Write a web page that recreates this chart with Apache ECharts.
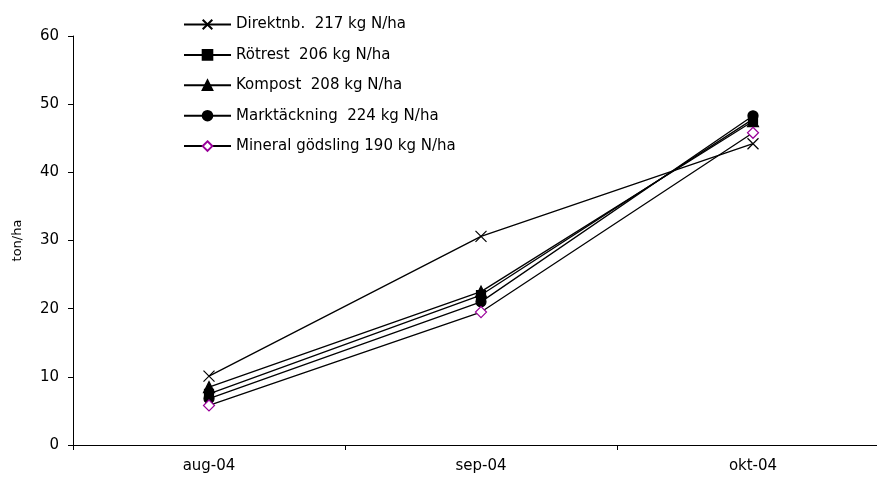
<!DOCTYPE html>
<html>
<head>
<meta charset="utf-8">
<script src="https://cdn.jsdelivr.net/npm/echarts@6/dist/echarts.min.js"></script>
<style>html,body{margin:0;padding:0;background:#fff;overflow:hidden;width:877px;height:477px;}#c{width:889px;height:477px;}</style>
</head>
<body>
<div id="c"></div>
<script>
var categories = ['aug-04', 'sep-04', 'okt-04'];
var seriesNames = ['Direktnb.  217 kg N/ha', 'Rötrest  206 kg N/ha', 'Kompost  208 kg N/ha', 'Marktäckning  224 kg N/ha', 'Mineral gödsling 190 kg N/ha'];
var direktnb = [10.1, 30.6, 44.2];
var rotrest = [7.5, 22.0, 47.8];
var kompost = [8.5, 22.5, 47.5];
var marktackning = [6.8, 21.0, 48.3];
var mineral = [5.8, 19.5, 45.8];
var yTicks = [0, 10, 20, 30, 40, 50, 60];

var FONT = 'DejaVu Sans';
function mk(name, data, symbol, size, color, fill) {
  return {
    name: name, type: 'line', data: data,
    symbol: symbol, symbolSize: size,
    lineStyle: { color: '#000', width: 1.3 },
    itemStyle: { color: fill, borderColor: color, borderWidth: 1.2 },
    emphasis: { disabled: true },
    animation: false
  };
}
var chart = echarts.init(document.getElementById('c'), null, { renderer: 'canvas' });
chart.setOption({
  backgroundColor: '#fff',
  animation: false,
  grid: { left: 73, top: 36, right: 0, bottom: 32, containLabel: false },
  legend: {
    orient: 'vertical', left: 183, top: 17, padding: 0,
    itemWidth: 47, itemHeight: 12, itemGap: 15.4,
    textStyle: { fontFamily: FONT, fontSize: 15, color: '#000' },
    data: seriesNames
  },
  xAxis: {
    type: 'category', data: categories, boundaryGap: true,
    axisLine: { lineStyle: { color: '#000', width: 1 } },
    axisTick: { show: true, alignWithLabel: false, length: 5, lineStyle: { color: '#000' } },
    axisLabel: { fontFamily: FONT, fontSize: 15, color: '#000', margin: 14 },
    splitLine: { show: false }
  },
  yAxis: {
    type: 'value', min: yTicks[0], max: yTicks[yTicks.length - 1], interval: 10,
    name: 'ton/ha', nameLocation: 'middle', nameGap: 49, nameRotate: 90,
    nameTextStyle: { fontFamily: FONT, fontSize: 13, color: '#000' },
    axisLine: { show: true, lineStyle: { color: '#000', width: 1 } },
    axisTick: { show: true, length: 5, lineStyle: { color: '#000' } },
    axisLabel: { fontFamily: FONT, fontSize: 15, color: '#000', margin: 14 },
    splitLine: { show: false }
  },
  series: [
    mk(seriesNames[0], direktnb, 'path://M0,0L10,10M10,0L0,10', 11, '#000', '#000'),
    mk(seriesNames[1], rotrest, 'rect', 9, '#000', '#000'),
    mk(seriesNames[2], kompost, 'triangle', 11, '#000', '#000'),
    mk(seriesNames[3], marktackning, 'circle', 10, '#000', '#000'),
    mk(seriesNames[4], mineral, 'diamond', 11, '#990099', '#fff')
  ]
});
</script>
</body>
</html>
